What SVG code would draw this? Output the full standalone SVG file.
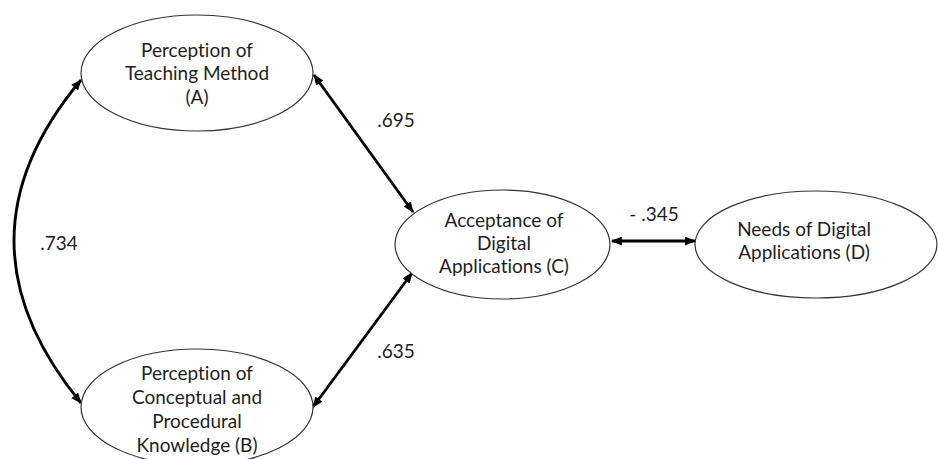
<svg xmlns="http://www.w3.org/2000/svg" width="938" height="459" viewBox="0 0 938 459">
<style>
.node ellipse{fill:#fff;stroke:#333;stroke-width:1.2}
text{font-family:Lato,"Open Sans","Liberation Sans",sans-serif;font-size:19px;fill:#1e1e1e;text-anchor:middle;font-variant-ligatures:none}
.conn path,.conn line{fill:none;stroke:#000;stroke-width:2.8;marker-start:url(#ah);marker-end:url(#ah)}
</style>
<defs>
<marker id="ah" viewBox="0 0 10 8" refX="9" refY="4" markerWidth="11" markerHeight="9" markerUnits="userSpaceOnUse" orient="auto-start-reverse">
<path d="M0,0 L10,4 L0,8 z" fill="#000"/>
</marker>
</defs>
<rect width="938" height="459" fill="#fff"/>
<g id="connectors" class="conn">
<path d="M81,80 Q-53,240 81,403"/>
<line x1="314" y1="75" x2="413" y2="212"/>
<line x1="412" y1="273" x2="313" y2="407"/>
<line x1="612" y1="241" x2="695" y2="241"/>
</g>
<g id="labels">
<text x="59" y="250">.734</text>
<text x="396" y="127">.695</text>
<text x="396" y="358">.635</text>
<text x="654" y="221">- .345</text>
</g>
<g id="nodeA" class="node">
<ellipse cx="197" cy="73" rx="116" ry="58"/>
<text x="197" y="56.5">Perception of</text>
<text x="197" y="80">Teaching Method</text>
<text x="197" y="103.5">(A)</text>
</g>
<g id="nodeB" class="node">
<ellipse cx="197" cy="407" rx="116" ry="58"/>
<text x="197" y="379.5">Perception of</text>
<text x="197" y="403.5">Conceptual and</text>
<text x="197" y="427.5">Procedural</text>
<text x="197" y="451.5">Knowledge (B)</text>
</g>
<g id="nodeC" class="node">
<ellipse cx="502.5" cy="244.5" rx="107.5" ry="54.5"/>
<text x="504" y="226.5">Acceptance of</text>
<text x="504" y="249.5">Digital</text>
<text x="504" y="272.5">Applications (C)</text>
</g>
<g id="nodeD" class="node">
<ellipse cx="816" cy="244.5" rx="121" ry="53.5"/>
<text x="804" y="235.5">Needs of Digital</text>
<text x="804" y="258.5">Applications (D)</text>
</g>
</svg>
